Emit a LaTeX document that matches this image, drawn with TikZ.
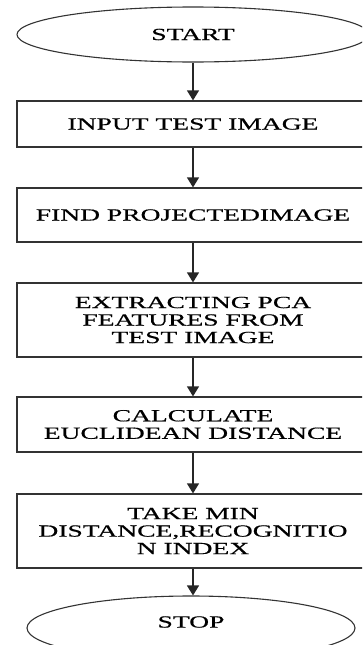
\documentclass[tikz,border=0pt]{standalone}
\usepackage{fontspec}
\setmainfont[FakeStretch=1.62,FakeBold=0.6]{Liberation Serif}
\usetikzlibrary{shapes.geometric,arrows.meta}
\begin{document}
\begin{tikzpicture}[x=1pt,y=-1pt,
  stepbox/.style={draw=black!80,line width=1.2pt,minimum width=352pt,inner sep=0pt,
    align=center,font=\fontsize{17}{17.5}\selectfont},
  term/.style={draw=black!80,line width=1.1pt,ellipse,inner sep=0pt,
    font=\fontsize{17}{17.5}\selectfont},
  arr/.style={draw=black!85,line width=1.2pt,-{Triangle[width=12pt,length=10pt]}}]
\useasboundingbox (0,0) rectangle (362,645);
\clip (0,0) rectangle (362,645);
\node[term,minimum width=352pt,minimum height=55pt] (start) at (193,34.5) {START};
\node[stepbox,minimum height=46pt] (b1) at (193,124) {INPUT TEST IMAGE};
\node[stepbox,minimum height=54pt] (b2) at (193,215) {FIND PROJECTEDIMAGE};
\node[stepbox,minimum height=74pt] (b3) at (193,320) {EXTRACTING PCA\\FEATURES FROM\\TEST IMAGE};
\node[stepbox,minimum height=55pt] (b4) at (193,424.5) {CALCULATE\\EUCLIDEAN DISTANCE};
\node[stepbox,minimum height=74pt] (b5) at (193,531) {TAKE MIN\\DISTANCE,RECOGNITIO\\N INDEX};
\node[term,minimum width=328pt,minimum height=64pt] (stop) at (191,628) {};
\node[font=\fontsize{17}{17.5}\selectfont,inner sep=0pt] (stoptext) at (191,622) {STOP};
\draw[arr] (start) -- (b1);
\draw[arr] (b1) -- (b2);
\draw[arr] (b2) -- (b3);
\draw[arr] (b3) -- (b4);
\draw[arr] (b4) -- (b5);
\draw[arr] (b5.south) -- (stop.north -| b5.south);
\end{tikzpicture}
\end{document}
